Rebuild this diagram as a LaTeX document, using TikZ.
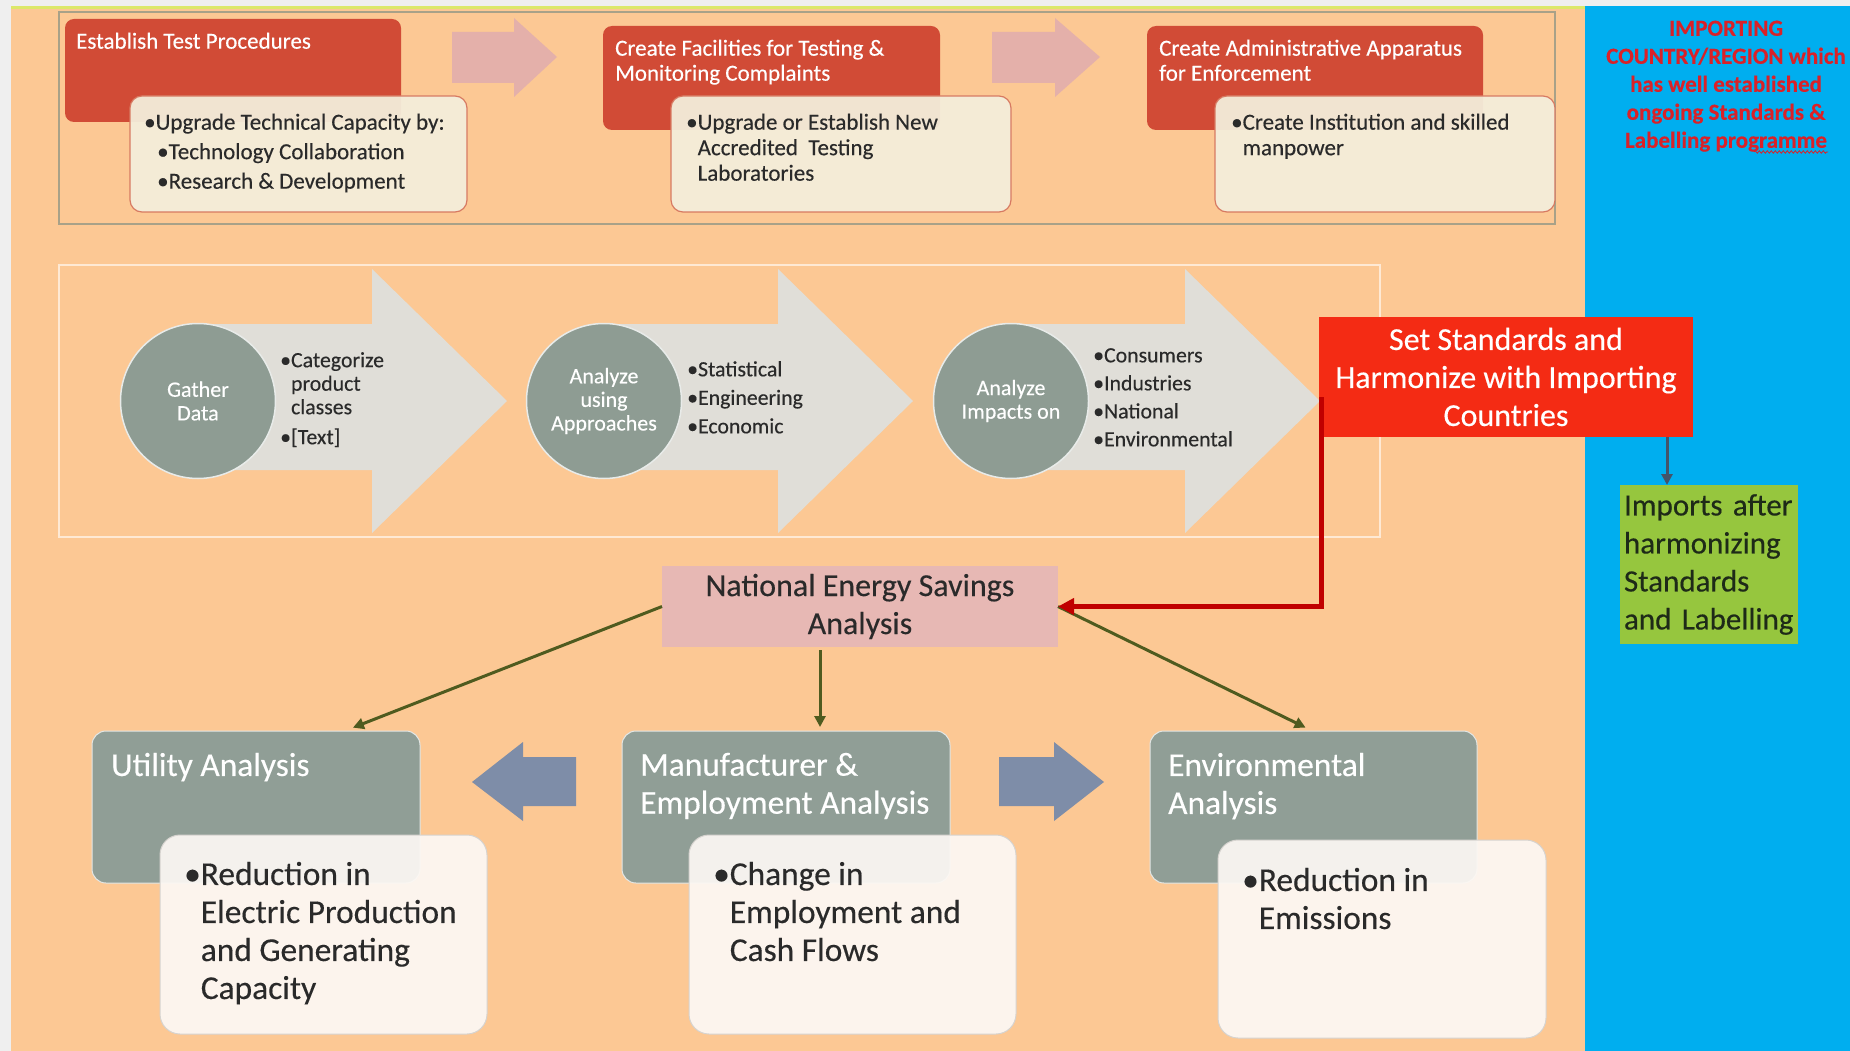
\documentclass[tikz,border=0pt]{standalone}
\usepackage{fontspec}
\setmainfont{Carlito}[FakeBold=0.3]
\usetikzlibrary{arrows.meta,calc,decorations.pathmorphing}
\definecolor{bgorange}{HTML}{FCC894}
\definecolor{bgblue}{HTML}{00AEEF}
\definecolor{bggray}{HTML}{EFEFEF}
\definecolor{yline}{HTML}{DCE86A}
\definecolor{headred}{HTML}{D14B36}
\definecolor{creamfill}{HTML}{F4EEDB}
\definecolor{creamline}{HTML}{D77A62}
\definecolor{pinkarrow}{HTML}{E4B0AA}
\definecolor{framebrown}{HTML}{A8A188}
\definecolor{lightarrow}{HTML}{E0DED8}
\definecolor{circgray}{HTML}{8E9C93}
\definecolor{stdred}{HTML}{F42B14}
\definecolor{darkred}{HTML}{C00000}
\definecolor{limegreen}{HTML}{96C63E}
\definecolor{greentext}{HTML}{1E2A18}
\definecolor{nespink}{HTML}{E7B8B4}
\definecolor{olive}{HTML}{4F5B1F}
\definecolor{boxgray}{HTML}{909E96}
\definecolor{whitebox}{HTML}{FCF8F4}
\definecolor{slate}{HTML}{7E8DA8}
\definecolor{navyline}{HTML}{44546A}
\definecolor{textdark}{HTML}{2A2A2A}
\definecolor{importred}{HTML}{DA2128}
\newcommand\fHead{\fontsize{23}{25}\selectfont}
\newcommand\fCream{\fontsize{23}{25.5}\selectfont}
\newcommand\fCreamA{\fontsize{23}{29.5}\selectfont}
\newcommand\fCirc{\fontsize{22}{23.6}\selectfont}
\newcommand\fList{\fontsize{21.8}{28}\selectfont}
\newcommand\fListB{\fontsize{21.8}{28.5}\selectfont}
\newcommand\fListA{\fontsize{21.8}{23.5}\selectfont}
\newcommand\fBig{\fontsize{32}{38}\selectfont}
\newcommand\fGreen{\fontsize{31}{38}\selectfont}
\newcommand\fBot{\fontsize{33.4}{38}\selectfont}
\newcommand\fImp{\fontsize{23}{28}\selectfont\bfseries}
\newcommand\ind{\hphantom{•}}
\begin{document}
\begin{tikzpicture}[x=1pt,y=-1pt,
  box/.style={anchor=north west, inner sep=0, outer sep=0},
  redbox/.style={box, fill=headred, rounded corners=9},
  creambox/.style={box, fill=creamfill, fill opacity=0.94, draw=creamline, line width=1.2, rounded corners=12},
  graybox/.style={box, fill=boxgray, draw=white!75!boxgray, line width=1, rounded corners=14},
  whitebx/.style={box, fill=whitebox, fill opacity=0.93, draw=black!15!whitebox, line width=1, rounded corners=20},
  txt/.style={anchor=north west, inner sep=0, align=left},
  circ/.style={circle, fill=circgray, draw=white!80!circgray, line width=1.5, minimum size=155, inner sep=0, text=white, align=center, font=\fCirc},
  olivearrow/.style={draw=olive, line width=3, -{Triangle[length=11,width=11]}, shorten >=1},
  redarrow/.style={draw=darkred, line width=5, -{Triangle[length=16,width=16]}},
  navyarrow/.style={draw=navyline, line width=3, -{Triangle[length=11,width=11]}}
]
\useasboundingbox (0,0) rectangle (1850,1051);
% background
\fill[bggray] (0,0) rectangle (1850,1051);
\fill[bgorange] (11,9) rectangle (1585,1051);
\fill[yline] (11,6) rectangle (1585,9);
\fill[bgblue] (1585,6) rectangle (1850,1051);

% ---------- top row ----------
\draw[framebrown, line width=1.5] (59,12) rectangle (1555,224);
\node[redbox, minimum width=336, minimum height=103] (h1) at (65,19) {};
\node[redbox, minimum width=337, minimum height=104] (h2) at (603,26) {};
\node[redbox, minimum width=336, minimum height=104] (h3) at (1147,26) {};
\fill[pinkarrow] (452,32)--(514,32)--(514,18)--(557,57)--(514,97)--(514,83)--(452,83)--cycle;
\fill[pinkarrow] (992,32)--(1055,32)--(1055,18)--(1100,57)--(1055,97)--(1055,83)--(992,83)--cycle;
\node[txt, text=white, font=\fHead] (h1t) at (76,32.5) {Establish Test Procedures};
\node[txt, text=white, font=\fHead] (h2t) at (615,39.5) {Create Facilities for Testing \&\\Monitoring Complaints};
\node[txt, text=white, font=\fHead] (h3t) at (1159,39.5) {Create Administrative Apparatus\\for Enforcement};
\node[creambox, minimum width=337, minimum height=116] (k1) at (130,96) {};
\node[creambox, minimum width=340, minimum height=116] (k2) at (671,96) {};
\node[creambox, minimum width=340, minimum height=116] (k3) at (1215,96) {};
\node[txt, text=textdark, font=\fCreamA] (k1t) at (144,113.5) {•Upgrade Technical Capacity by:\\\hspace{13pt}•Technology Collaboration\\\hspace{13pt}•Research \& Development};
\node[txt, text=textdark, font=\fCream] (k2t) at (686,113.5) {•Upgrade or Establish New\\\ind Accredited\ \ Testing\\\ind Laboratories};
\node[txt, text=textdark, font=\fCream] (k3t) at (1231,113.5) {•Create Institution and skilled\\\ind manpower};

% ---------- middle row ----------
\draw[white!60!bgorange, line width=2] (59,265) rectangle (1380,537);
\foreach \cx in {198,604,1011}{
  \fill[lightarrow] (\cx,324)--(\cx+174,324)--(\cx+174,269)--(\cx+309,401)--(\cx+174,533)--(\cx+174,470)--(\cx,470)--cycle;
}
\node[circ] (c1) at (198,401) {Gather\\Data};
\node[circ] (c2) at (604,401) {Analyze\\using\\Approaches};
\node[circ] (c3) at (1011,401) {Analyze\\Impacts on};
\node[txt, text=textdark, font=\fListA] (c1t) at (280,352) {•Categorize\\\ind product\\\ind classes\\[6.5pt]•[Text]};
\node[txt, text=textdark, font=\fListB] (c2t) at (687,361) {•Statistical\\•Engineering\\•Economic};
\node[txt, text=textdark, font=\fList] (c3t) at (1093,348) {•Consumers\\•Industries\\•National\\•Environmental};

% ---------- right side ----------
\node[txt, anchor=north, align=center, text=importred, font=\fImp] (imp) at (1726,20.5) {IMPORTING\\COUNTRY/REGION which\\has well established\\ongoing Standards \&\\Labelling programme};
\draw[importred, line width=0.8, decorate, decoration={snake, amplitude=1.2pt, segment length=4pt}] (1754,152) -- (1828,152);
\node[box, fill=stdred, minimum width=374, minimum height=120, text=white, align=center, font=\fBig] (std) at (1319,317) {Set Standards and\\Harmonize with Importing\\Countries};
\node[box, fill=limegreen, minimum width=178, minimum height=159, text=greentext, align=left, font=\fGreen, text width=170, inner xsep=4] (green) at (1620,485) {Imports after\\harmonizing\\Standards\\and Labelling};
\node[box, fill=nespink, minimum width=396, minimum height=81, text=textdark, align=center, font=\fBig] (nes) at (662,566) {National Energy Savings\\Analysis};

% ---------- bottom row ----------
\node[graybox, minimum width=328, minimum height=152] (util) at (92,731) {};
\node[graybox, minimum width=328, minimum height=152] (man) at (622,731) {};
\node[graybox, minimum width=327, minimum height=152] (env) at (1150,731) {};
\node[txt, text=white, font=\fBot] (utilt) at (111,752.6) {Utility Analysis};
\node[txt, text=white, font=\fBot] (mant) at (640,752.6) {Manufacturer \&\\Employment Analysis};
\node[txt, text=white, font=\fBot] (envt) at (1168,752.6) {Environmental\\Analysis};
\fill[slate] (472,782)--(523,742)--(523,757)--(576,757)--(576,806)--(523,806)--(523,821)--cycle;
\fill[slate] (1104,782)--(1054,742)--(1054,757)--(999,757)--(999,806)--(1054,806)--(1054,821)--cycle;
\node[whitebx, minimum width=327, minimum height=199] (utilw) at (160,835) {};
\node[whitebx, minimum width=327, minimum height=199] (manw) at (689,835) {};
\node[whitebx, minimum width=328, minimum height=198] (envw) at (1218,840) {};
\node[txt, text=textdark, font=\fBot] (utilwt) at (184,861.6) {•Reduction in\\\ind Electric Production\\\ind and Generating\\\ind Capacity};
\node[txt, text=textdark, font=\fBot] (manwt) at (713,861.6) {•Change in\\\ind Employment and\\\ind Cash Flows};
\node[txt, text=textdark, font=\fBot] (envwt) at (1242,867.6) {•Reduction in\\\ind Emissions};

% ---------- connectors ----------
\draw[olivearrow] (nes.west) -- ([xshift=96pt,yshift=3pt]util.north);
\draw[olivearrow] ([xshift=-40pt,yshift=-3pt]nes.south) -- ([xshift=34pt,yshift=3pt]man.north);
\draw[olivearrow] (nes.east) -- ([xshift=-7pt,yshift=3pt]env.north);
\draw[redarrow] ([xshift=2pt,yshift=-20pt]std.west) |- (nes.east);
\draw[navyarrow] ([xshift=161pt]std.south) -- ([xshift=-42pt]green.north);
\end{tikzpicture}
\end{document}
